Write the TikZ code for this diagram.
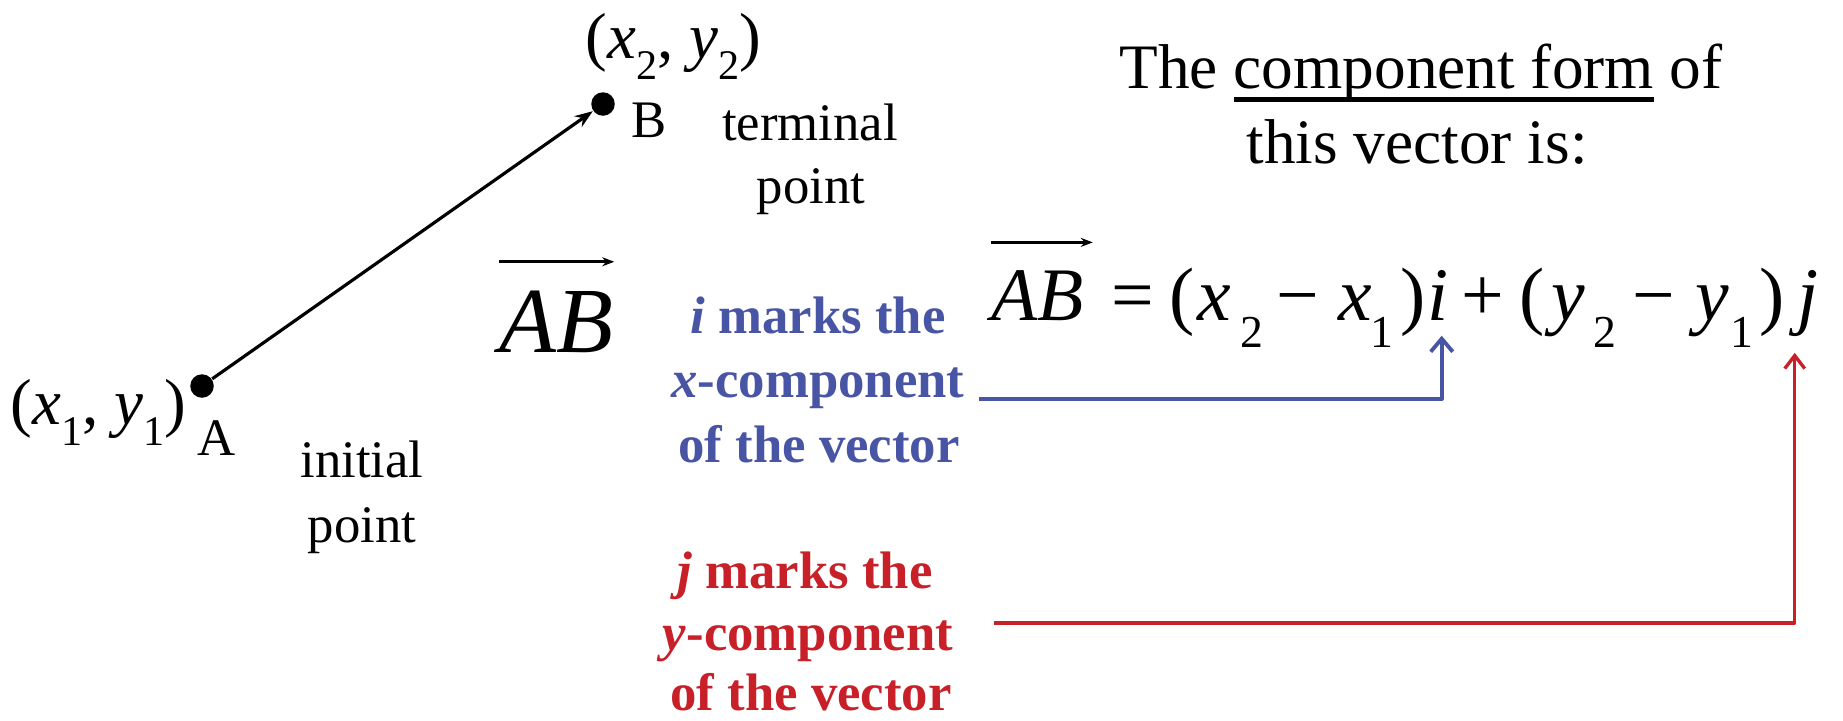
\documentclass[tikz,border=0pt]{standalone}
\usepackage{fontspec}
\setmainfont{Liberation Serif}
\usepackage{graphicx}
\usetikzlibrary{arrows.meta}
\definecolor{vblue}{RGB}{72,84,164}
\definecolor{vred}{RGB}{200,32,40}
\newcommand\lsub[1]{\raisebox{-0.21cm}{\fontsize{12}{12}\selectfont #1}}
\newlength\ulwd
\newcommand\myul[1]{\settowidth{\ulwd}{#1}\rlap{\rule[-0.135cm]{\ulwd}{0.05cm}}#1}
\begin{document}
\begin{tikzpicture}[x=0.01cm,y=-0.01cm,
  lbl/.style={font=\fontsize{15}{18}\selectfont, inner sep=0pt, anchor=base},
  coordlbl/.style={font=\fontsize{18.5}{20}\selectfont, inner sep=0pt, anchor=base west},
  toptxt/.style={font=\fontsize{18}{20}\selectfont, inner sep=0pt, anchor=base},
  btxt/.style={font=\fontsize{15}{18}\selectfont\bfseries, text=vblue, inner sep=0pt, anchor=base},
  rtxt/.style={font=\fontsize{15}{18}\selectfont\bfseries, text=vred, inner sep=0pt, anchor=base},
  eq/.style={font=\fontsize{21.5}{24}\selectfont, inner sep=0pt, anchor=base west},
  eqs/.style={font=\fontsize{13}{14}\selectfont, inner sep=0pt, anchor=base west},
  bigeq/.style={font=\fontsize{26.5}{28}\selectfont, inner sep=0pt, anchor=base west},
  dotpt/.style={circle, fill=black, inner sep=0pt, minimum size=0.235cm},
  vecline/.style={line width=0.9pt, -{Stealth[length=0.18cm,width=0.13cm]}},
  overarr/.style={line width=0.9pt, -{Stealth[length=0.12cm,width=0.09cm]}},
  bluearr/.style={draw=vblue, line width=1.1pt, line join=round, -{Straight Barb[length=0.13cm,width=0.22cm,line width=1.1pt]}},
  redarr/.style={draw=vred, line width=0.95pt, line join=round, -{Straight Barb[length=0.13cm,width=0.2cm,line width=0.95pt]}}
]
\useasboundingbox (0,0) rectangle (1843,720);

% points and vector
\node[dotpt] (A) at (202,386) {};
\node[dotpt] (B) at (603,104) {};
\draw[vecline] (A) -- (B);

\node[lbl, anchor=base west] (Alab) at (197,455) {A};
\node[lbl, anchor=base west] (Blab) at (631,137) {B};
\node[lbl] (term1) at (810,140) {terminal};
\node[lbl] (term2) at (811,203) {point};
\node[lbl] (init1) at (362,477) {initial};
\node[lbl] (init2) at (362,542) {point};

\node[coordlbl] (P1) at (10,424) {(\textit{x}\lsub{1}, \textit{y}\lsub{1})};
\node[coordlbl] (P2) at (585,58) {(\textit{x}\lsub{2}, \textit{y}\lsub{2})};

% big AB
\node[bigeq] (bigAB) at (499,352) {\textit{AB}};
\draw[overarr] ([yshift=0.28cm]bigAB.north west) -- ([yshift=0.28cm]bigAB.north east);

% top text
\node[toptxt] (top1) at (1421,88) {The \myul{component form} of};
\node[toptxt] (top2) at (1417,163) {this vector is:};

% equation
\node[eq] (eqAB) at (991,320) {\textit{AB}};
\draw[overarr] ([yshift=0.27cm]eqAB.north west) -- ([xshift=0.08cm,yshift=0.27cm]eqAB.north east);
\node[eq] (eqeq) at (1111,320) {=};
\node[eq] (eqlp1) at (1169,320) {(};
\node[eq] (eqx2) at (1197,320) {\textit{x}};
\node[eqs] (eqs2a) at (1240,347) {2};
\node[eq] (eqm1) at (1276,320) {−};
\node[eq] (eqx1) at (1338,320) {\textit{x}};
\node[eqs] (eqs1a) at (1370,347) {1};
\node[eq] (eqrp1) at (1400,320) {)};
\node[eq] (eqi) at (1427,320) {\textit{i}};
\node[eq] (eqplus) at (1461,320) {+};
\node[eq] (eqlp2) at (1519,320) {(};
\node[eq] (eqy2) at (1551,320) {\textit{y}};
\node[eqs] (eqs2b) at (1593,347) {2};
\node[eq] (eqm2) at (1632,320) {−};
\node[eq] (eqy1) at (1695,320) {\textit{y}};
\node[eqs] (eqs1b) at (1730,347) {1};
\node[eq] (eqrp2) at (1759,320) {)};
\node[eq] (eqj) at (1797,320) {\textit{j}};

% blue text
\node[btxt] (b1) at (818,333) {\textit{i} marks the};
\node[btxt] (b2) at (818,397) {\textit{x}-component};
\node[btxt] (b3) at (819,462) {of the vector};

% red text
\node[rtxt] (r1) at (805,588) {\textit{j} marks the};
\node[rtxt] (r2) at (808,650) {\textit{y}-component};
\node[rtxt] (r3) at (811,710) {of the vector};

% connectors
\coordinate (bstart) at (979,399);
\draw[bluearr] (bstart) -| ([xshift=0.035cm,yshift=-0.15cm]eqi.south);
\coordinate (rstart) at (994,623);
\draw[redarr] (rstart) -| ([xshift=-0.135cm,yshift=-0.16cm]eqj.south);
\end{tikzpicture}
\end{document}
